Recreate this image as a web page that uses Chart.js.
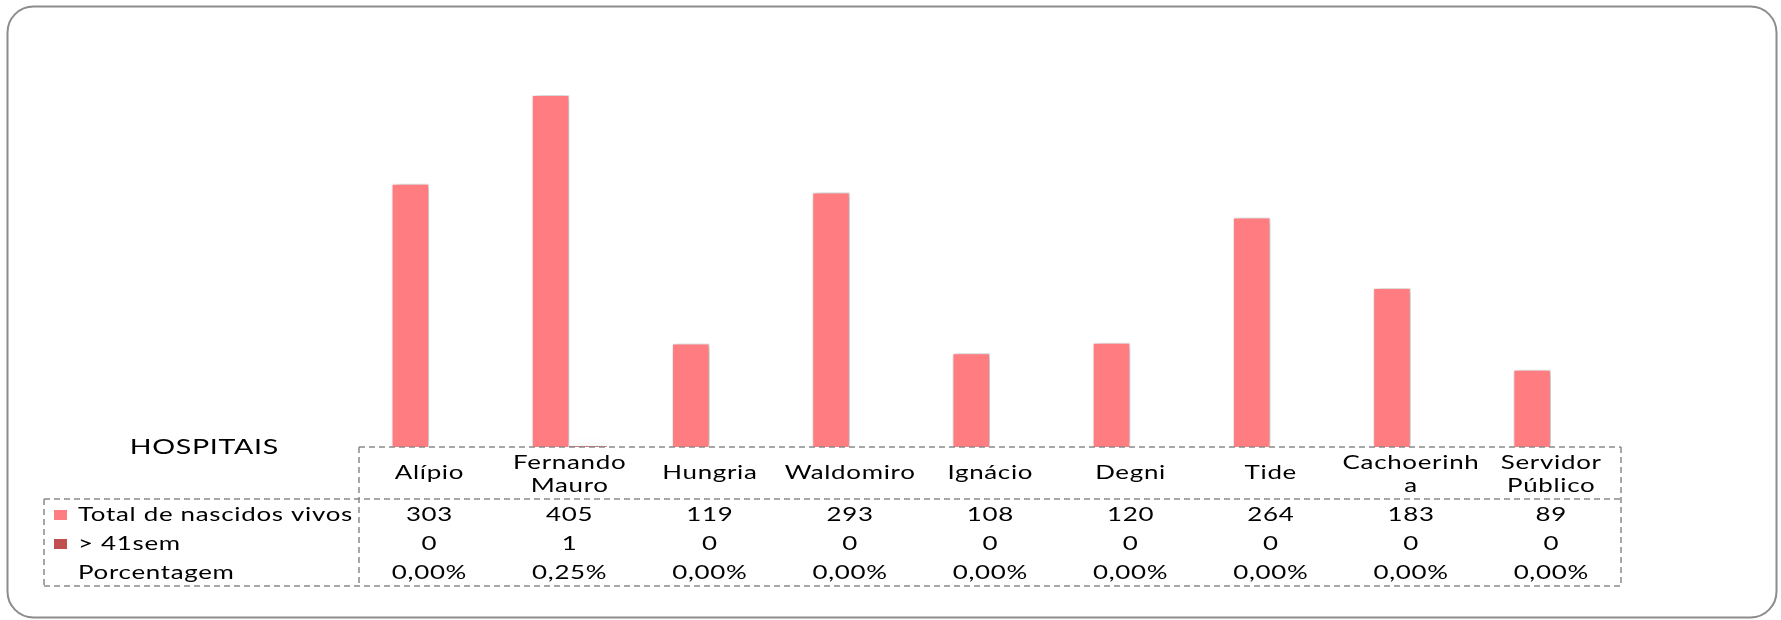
<!DOCTYPE html>
<html lang="pt-BR">
<head>
<meta charset="utf-8">
<title>Nascidos vivos &gt; 41 semanas por hospital</title>
<script src="https://cdn.jsdelivr.net/npm/chart.js@4.4.1/dist/chart.umd.min.js"></script>
<style>
  html, body { margin: 0; padding: 0; background: #fff; }
  canvas { display: block; }
</style>
</head>
<body>
<canvas id="hospitalChart" width="1781" height="620"></canvas>
<script>
// ─── Data ────────────────────────────────────────────────────────────────────
const hospitais = [
    'Alípio', ['Fernando', 'Mauro'], 'Hungria', 'Waldomiro', 'Ignácio',
    'Degni', 'Tide', ['Cachoerinh', 'a'], ['Servidor', 'Público']
];
const totalNascidosVivos = [303, 405, 119, 293, 108, 120, 264, 183, 89];
const acima41sem = [0, 1, 0, 0, 0, 0, 0, 0, 0];
const porcentagem = ['0,00%', '0,25%', '0,00%', '0,00%', '0,00%', '0,00%', '0,00%', '0,00%', '0,00%'];
const yTicks = [0, 450];

const PINK = '#FF7C80';
const DARK_RED = '#C0504D';
const FONT = 'Lato, "Open Sans", sans-serif';
const STRETCH = 1.4;   // the original text is drawn horizontally stretched
const SPACING = 0.5;

// draw text stretched horizontally round its anchor
function stretchedText(ctx, text, x, y, k) {
    ctx.save();
    ctx.translate(x, y);
    ctx.scale(k || STRETCH, 1);
    ctx.fillText(text, ctx.textAlign === 'center' ? SPACING / 2 : 0, 0);
    ctx.restore();
}

// ─── Rounded frame round the whole chart ─────────────────────────────────────
const framePlugin = {
    id: 'frame',
    beforeDraw(chart) {
        const ctx = chart.ctx;
        ctx.save();
        ctx.fillStyle = '#fff';
        ctx.fillRect(0, 0, chart.width, chart.height);
        ctx.beginPath();
        ctx.roundRect(7.5, 6.5, 1769, 611, 26);
        ctx.strokeStyle = '#8c8c8c';
        ctx.lineWidth = 2;
        ctx.stroke();
        ctx.restore();
    }
};

// ─── Soft shadow behind the bars (Excel style) ───────────────────────────────
const shadowPlugin = {
    id: 'barShadow',
    beforeDatasetsDraw(chart) {
        const ctx = chart.ctx;
        ctx.save();
        ctx.shadowColor = 'rgba(0,0,0,0.35)';
        ctx.shadowBlur = 7;
        ctx.shadowOffsetX = 2;
        ctx.shadowOffsetY = 0;
    },
    afterDatasetsDraw(chart) {
        chart.ctx.restore();
    }
};

// ─── Data table under the plot ───────────────────────────────────────────────
const dataTablePlugin = {
    id: 'dataTable',
    afterDraw(chart) {
        const ctx = chart.ctx;
        const x = chart.scales.x;
        const colLeft = x.left;
        const colRight = x.right;
        const top = chart.chartArea.bottom;
        const headBottom = 499;
        const tableLeft = 44;
        const bottom = 586;
        const rowY = [515, 544, 573];

        ctx.save();
        // dashed grid
        ctx.strokeStyle = '#8a8a8a';
        ctx.lineWidth = 1.5;
        ctx.setLineDash([6, 4]);
        ctx.beginPath();
        ctx.moveTo(colLeft, top); ctx.lineTo(colRight, top);
        ctx.moveTo(colLeft, top); ctx.lineTo(colLeft, bottom);
        ctx.moveTo(colRight, top); ctx.lineTo(colRight, bottom);
        ctx.moveTo(tableLeft, headBottom); ctx.lineTo(colRight, headBottom);
        ctx.moveTo(tableLeft, headBottom); ctx.lineTo(tableLeft, bottom);
        ctx.moveTo(tableLeft, bottom); ctx.lineTo(colRight, bottom);
        ctx.stroke();
        ctx.setLineDash([]);

        ctx.fillStyle = '#000';
        ctx.textBaseline = 'middle';
        ctx.letterSpacing = SPACING + 'px';

        // corner title
        ctx.font = '21px ' + FONT;
        ctx.textAlign = 'center';
        stretchedText(ctx, 'HOSPITAIS', 204, 447, 1.36);

        ctx.font = '18.5px ' + FONT;

        // category headers
        hospitais.forEach(function (label, i) {
            const cx = x.getPixelForValue(i);
            const lines = Array.isArray(label) ? label : [label];
            const startY = lines.length === 1 ? 473 : 463;
            lines.forEach(function (line, j) {
                stretchedText(ctx, line, cx, startY + j * 23.5);
            });
        });

        // row labels with legend keys
        ctx.textAlign = 'left';
        ctx.fillStyle = PINK;
        ctx.fillRect(54, rowY[0] - 5, 13, 10);
        ctx.fillStyle = DARK_RED;
        ctx.fillRect(54, rowY[1] - 5, 13, 10);
        ctx.fillStyle = '#000';
        stretchedText(ctx, 'Total de nascidos vivos', 78, rowY[0]);
        stretchedText(ctx, '> 41sem', 78, rowY[1]);
        stretchedText(ctx, 'Porcentagem', 78, rowY[2]);

        // values
        ctx.textAlign = 'center';
        [totalNascidosVivos, acima41sem, porcentagem].forEach(function (row, r) {
            row.forEach(function (v, i) {
                stretchedText(ctx, String(v), x.getPixelForValue(i), rowY[r]);
            });
        });
        ctx.restore();
    }
};

new Chart(document.getElementById('hospitalChart'), {
    type: 'bar',
    data: {
        labels: hospitais,
        datasets: [{
            label: 'Total de nascidos vivos',
            data: totalNascidosVivos,
            backgroundColor: PINK,
            borderColor: '#ffffff',
            borderWidth: 1
        }, {
            label: '> 41sem',
            data: acima41sem,
            backgroundColor: DARK_RED,
            borderWidth: 0
        }]
    },
    options: {
        responsive: false,
        animation: false,
        layout: { padding: { left: 359, right: 160, top: 56, bottom: 173 } },
        plugins: {
            legend: { display: false },
            tooltip: { enabled: false }
        },
        datasets: {
            bar: { categoryPercentage: 0.535, barPercentage: 1 }
        },
        scales: {
            x: { display: false, offset: true },
            y: {
                display: false,
                min: yTicks[0],
                max: yTicks[1]
            }
        }
    },
    plugins: [framePlugin, shadowPlugin, dataTablePlugin]
});
</script>
</body>
</html>
